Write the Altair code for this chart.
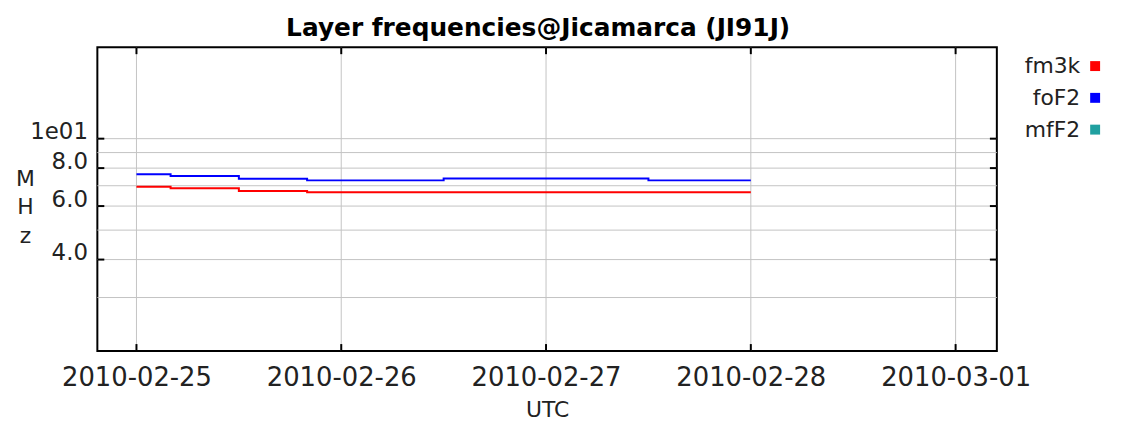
import altair as alt
import pandas as pd

# ---- data ----
fof2_times = ["2010-02-25T00:00:00Z", "2010-02-25T04:00:00Z", "2010-02-25T12:00:00Z",
              "2010-02-25T20:00:00Z", "2010-02-26T12:00:00Z", "2010-02-27T12:00:00Z",
              "2010-02-28T00:00:00Z"]
fof2_values = [7.63, 7.53, 7.38, 7.29, 7.40, 7.29, 7.29]

fm3k_times = ["2010-02-25T00:00:00Z", "2010-02-25T04:00:00Z", "2010-02-25T12:00:00Z",
              "2010-02-25T20:00:00Z", "2010-02-26T12:00:00Z", "2010-02-27T12:00:00Z",
              "2010-02-28T00:00:00Z"]
fm3k_values = [6.95, 6.87, 6.73, 6.66, 6.66, 6.66, 6.66]

series_names = ["fm3k", "foF2", "mfF2"]
series_colors = ["#ff0000", "#0000ff", "#20a0a0"]

grid_mhz = [3, 4, 5, 6, 7, 8, 9, 10]
tick_mhz = [4, 6, 8, 10]
tick_dates = ["2010-02-25T00:00:00Z", "2010-02-26T00:00:00Z", "2010-02-27T00:00:00Z",
              "2010-02-28T00:00:00Z", "2010-03-01T00:00:00Z"]

W, H = 906, 306
FONT = "DejaVu Sans"

lines_df = pd.DataFrame({
    "time": fm3k_times + fof2_times,
    "mhz": fm3k_values + fof2_values,
    "series": ["fm3k"] * len(fm3k_times) + ["foF2"] * len(fof2_times),
})
grid_df = pd.DataFrame({"mhz": grid_mhz})
tickm_df = pd.DataFrame({"mhz": tick_mhz})
dates_df = pd.DataFrame({"time": tick_dates})

yscale = alt.Scale(type="log", domain=[2, 20], nice=False)
xscale = alt.Scale(type="utc", domain=[
    alt.DateTime(year=2010, month=2, date=24, hours=19, minutes=25, utc=True),
    alt.DateTime(year=2010, month=3, date=1, hours=4, minutes=50, utc=True)], nice=False)

x_axis = alt.Axis(
    values=[alt.DateTime(year=2010, month=2, date=d, utc=True) for d in (25, 26, 27, 28)]
    + [alt.DateTime(year=2010, month=3, date=1, utc=True)],
    labelExpr="utcFormat(datum.value, '%Y-%m-%d')", grid=False, domain=False, ticks=False,
    labelFont=FONT, labelFontSize=26, labelColor="#222", labelBaseline="alphabetic",
    labelPadding=35, labelFlush=False, labelOverlap=False,
    title="UTC", titleFont=FONT, titleFontSize=22, titleFontWeight="normal",
    titleColor="#222", titleBaseline="alphabetic", titleY=66)

y_axis = alt.Axis(
    values=tick_mhz,
    labelExpr="datum.value == 10 ? '1e01' : format(datum.value, '.1f')",
    grid=False, domain=False, ticks=False,
    labelFont=FONT, labelFontSize=23, labelColor="#222", labelBaseline="alphabetic",
    labelPadding=10,
    title=["M", "H", "z"], titleAngle=0, titleAlign="center", titleBaseline="alphabetic",
    titleX=-73, titleY=139, titleFont=FONT, titleFontSize=22, titleFontWeight="normal",
    titleColor="#222", titleLineHeight=29)

X = lambda: alt.X("time:T", scale=xscale, axis=x_axis)
Y = lambda: alt.Y("mhz:Q", scale=yscale, axis=y_axis)

hgrid = alt.Chart(grid_df).mark_rule(color="#c4c4c4", strokeWidth=1).encode(y=Y())
vgrid = alt.Chart(dates_df).mark_rule(color="#c4c4c4", strokeWidth=1).encode(x=X())

lines = alt.Chart(lines_df).mark_line(interpolate="step-after", strokeWidth=2).encode(
    x=X(), y=Y(),
    color=alt.Color("series:N",
                    scale=alt.Scale(domain=series_names, range=series_colors),
                    legend=alt.Legend(
                        title=None, orient="none", legendX=994, legendY=8,
                        symbolType="square", symbolSize=16, symbolStrokeWidth=6,
                        symbolOpacity=1, labelAlign="right",
                        labelOffset=alt.ExprRef("-26"),
                        labelFont=FONT, labelFontSize=22, labelColor="#222",
                        rowPadding=4, labelLimit=200)),
)

tick_left = alt.Chart(tickm_df).mark_rule(color="#000", strokeWidth=2).encode(
    y=Y(), x=alt.value(0), x2=alt.value(7))
tick_right = alt.Chart(tickm_df).mark_rule(color="#000", strokeWidth=2).encode(
    y=Y(), x=alt.value(W - 7), x2=alt.value(W))
tick_top = alt.Chart(dates_df).mark_rule(color="#000", strokeWidth=2).encode(
    x=X(), y=alt.value(0), y2=alt.value(7))
tick_bottom = alt.Chart(dates_df).mark_rule(color="#000", strokeWidth=2).encode(
    x=X(), y=alt.value(H - 7), y2=alt.value(H))

chart = alt.layer(hgrid, vgrid, lines, tick_left, tick_right, tick_top, tick_bottom).properties(
    width=W, height=H,
    autosize=alt.AutoSizeParams(type="none"),
    padding={"left": 90, "top": 38, "right": 118, "bottom": 71},
    title=alt.TitleParams(
        "Layer frequencies@Jicamarca (JI91J)", font=FONT, fontSize=25,
        fontWeight="bold", color="#000", anchor="middle", dx=-9, dy=23,
        baseline="bottom", offset=3),
).configure_view(stroke="#000", strokeWidth=2)

chart.save("out.html", embed_options={"renderer": "svg", "actions": False})
